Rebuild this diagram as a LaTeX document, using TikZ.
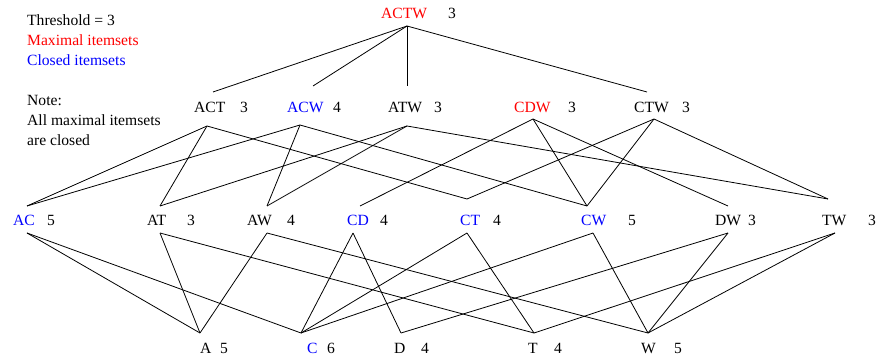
\documentclass[tikz,border=0pt]{standalone}
\usepackage{fontspec}
\setmainfont{Liberation Serif}
\definecolor{maxred}{RGB}{255,0,0}
\definecolor{closedblue}{RGB}{0,0,255}
\begin{document}
\begin{tikzpicture}[x=1pt,y=-1pt,
  lbl/.style={anchor=base west,inner sep=0pt,font=\fontsize{15.6}{18}\selectfont},
  maxset/.style={lbl,text=maxred},
  closedset/.style={lbl,text=closedblue},
  edge/.style={line width=0.8pt,black}]
\useasboundingbox (0,0) rectangle (876,358);
% legend
\node[lbl] (thr) at (27,26) {Threshold = 3};
\node[maxset] (legmax) at (27,46) {Maximal itemsets};
\node[closedset] (legclo) at (27,66) {Closed itemsets};
\node[lbl] (note1) at (27,106) {Note:};
\node[lbl] (note2) at (27,126) {All maximal itemsets};
\node[lbl] (note3) at (27,146) {are closed};
% level 1
\node[maxset] (nACTW) at (381,19) {ACTW};
\node[lbl] (cACTW) at (448,19) {3};
% level 2
\node[lbl] (nACT) at (194,113) {ACT};
\node[lbl] (cACT) at (240,113) {3};
\node[closedset] (nACW) at (287,113) {ACW};
\node[lbl] (cACW) at (333,113) {4};
\node[lbl] (nATW) at (388,113) {ATW};
\node[lbl] (cATW) at (434,113) {3};
\node[maxset] (nCDW) at (514,113) {CDW};
\node[lbl] (cCDW) at (568,113) {3};
\node[lbl] (nCTW) at (634,113) {CTW};
\node[lbl] (cCTW) at (682,113) {3};
% level 3
\node[closedset] (nAC) at (13,226) {AC};
\node[lbl] (cAC) at (47,226) {5};
\node[lbl] (nAT) at (147,226) {AT};
\node[lbl] (cAT) at (187,226) {3};
\node[lbl] (nAW) at (247,226) {AW};
\node[lbl] (cAW) at (287,226) {4};
\node[closedset] (nCD) at (347,226) {CD};
\node[lbl] (cCD) at (380,226) {4};
\node[closedset] (nCT) at (460,226) {CT};
\node[lbl] (cCT) at (493,226) {4};
\node[closedset] (nCW) at (581,226) {CW};
\node[lbl] (cCW) at (628,226) {5};
\node[lbl] (nDW) at (715,226) {DW};
\node[lbl] (cDW) at (748,226) {3};
\node[lbl] (nTW) at (822,226) {TW};
\node[lbl] (cTW) at (868,226) {3};
% level 4
\node[lbl] (nA) at (200,353) {A};
\node[lbl] (cA) at (220,353) {5};
\node[closedset] (nC) at (307,353) {C};
\node[lbl] (cC) at (327,353) {6};
\node[lbl] (nD) at (394,353) {D};
\node[lbl] (cD) at (421,353) {4};
\node[lbl] (nT) at (528,353) {T};
\node[lbl] (cT) at (554,353) {4};
\node[lbl] (nW) at (641,353) {W};
\node[lbl] (cW) at (674,353) {5};
% anchor points
\coordinate (ACTWb) at (407,26);
\coordinate (ACTt) at (213,92);  \coordinate (ACTb) at (207,126);
\coordinate (ACWt) at (313,86);  \coordinate (ACWb) at (300,125);
\coordinate (ATWt) at (407,86);  \coordinate (ATWb) at (407,126);
\coordinate (CDWb) at (533,119);
\coordinate (CTWt) at (647,92);  \coordinate (CTWb) at (654,119);
\coordinate (ACt) at (27,206);   \coordinate (ACb) at (27,233);
\coordinate (ATt) at (160,206);  \coordinate (ATb) at (160,233);
\coordinate (AWt) at (267,206);  \coordinate (AWb) at (267,233);
\coordinate (CDt) at (360,206);  \coordinate (CDb) at (353,233);
\coordinate (CTt) at (467,199);  \coordinate (CTb) at (467,233);
\coordinate (CWt) at (587,206);  \coordinate (CWb) at (593,233);
\coordinate (DWt) at (728,206);  \coordinate (DWb) at (728,233);
\coordinate (TWt) at (828,199);  \coordinate (TWb) at (835,233);
\coordinate (At) at (200,333);
\coordinate (Ct) at (301,333);
\coordinate (Dt) at (401,333);
\coordinate (Tt) at (534,333);
\coordinate (Wt) at (648,333);
% edges level 1-2
\draw[edge] (ACTWb) -- (ACTt);
\draw[edge] (ACTWb) -- (ACWt);
\draw[edge] (ACTWb) -- (ATWt);
\draw[edge] (ACTWb) -- (CTWt);
% edges level 2-3
\draw[edge] (ACTb) -- (ACt);
\draw[edge] (ACTb) -- (ATt);
\draw[edge] (ACTb) -- (CTt);
\draw[edge] (ACWb) -- (ACt);
\draw[edge] (ACWb) -- (AWt);
\draw[edge] (ACWb) -- (CWt);
\draw[edge] (ATWb) -- (ATt);
\draw[edge] (ATWb) -- (AWt);
\draw[edge] (ATWb) -- (TWt);
\draw[edge] (CDWb) -- (CDt);
\draw[edge] (CDWb) -- (CWt);
\draw[edge] (CDWb) -- (DWt);
\draw[edge] (CTWb) -- (CTt);
\draw[edge] (CTWb) -- (CWt);
\draw[edge] (CTWb) -- (TWt);
% edges level 3-4
\draw[edge] (ACb) -- (At);
\draw[edge] (ACb) -- (Ct);
\draw[edge] (ATb) -- (At);
\draw[edge] (ATb) -- (Tt);
\draw[edge] (AWb) -- (At);
\draw[edge] (AWb) -- (Wt);
\draw[edge] (CDb) -- (Ct);
\draw[edge] (CDb) -- (Dt);
\draw[edge] (CTb) -- (Ct);
\draw[edge] (CTb) -- (Tt);
\draw[edge] (CWb) -- (Ct);
\draw[edge] (CWb) -- (Wt);
\draw[edge] (DWb) -- (Dt);
\draw[edge] (DWb) -- (Wt);
\draw[edge] (TWb) -- (Tt);
\draw[edge] (TWb) -- (Wt);
\end{tikzpicture}
\end{document}
